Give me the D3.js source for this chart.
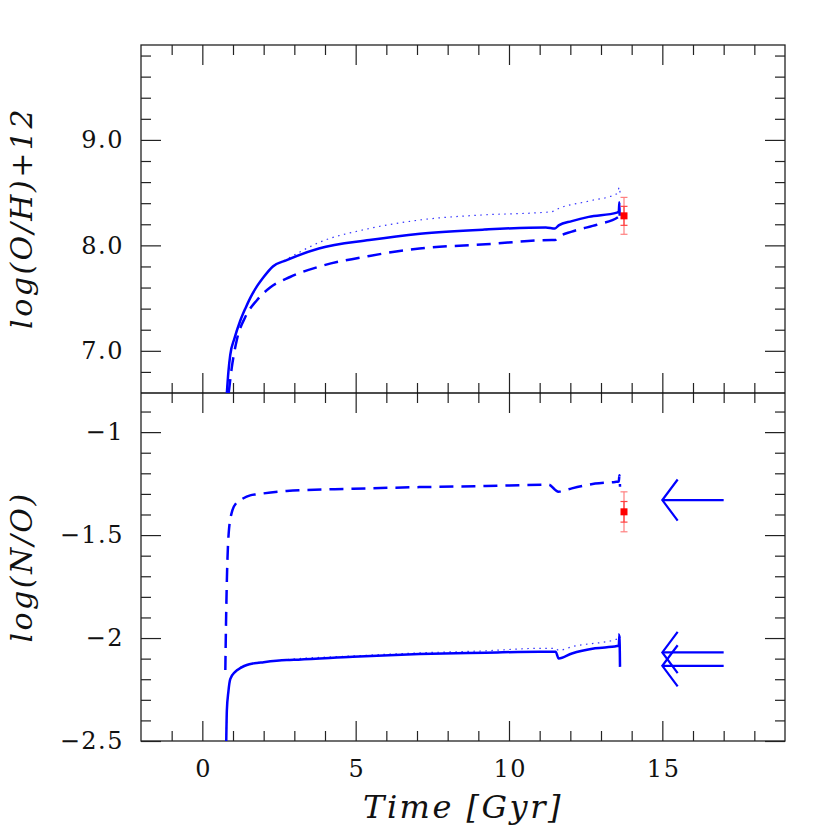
<!DOCTYPE html>
<html>
<head>
<meta charset="utf-8">
<script src="https://cdn.jsdelivr.net/npm/d3@7"></script>
<style>body{margin:0;background:#fff}</style>
</head>
<body>
<svg width="830" height="830"></svg>
<script>
// model tracks: [time in Gyr, value]
var ohSolid = [[0.80,6.60],[0.85,6.80],[0.91,6.96],[1.05,7.12],[1.23,7.28],[1.40,7.40],[1.56,7.50],[1.80,7.62],[2.00,7.70],[2.30,7.80],[2.75,7.86],[3.80,7.97],[5.45,8.05],[7.10,8.11],[9.20,8.15],[11.20,8.17],[11.50,8.16],[11.62,8.19],[12.05,8.23],[12.60,8.27],[13.52,8.31],[13.58,8.32],[13.60,8.41],[13.61,8.28]];
var ohDashed = [[0.86,6.60],[0.96,6.84],[1.13,7.11],[1.40,7.32],[1.78,7.48],[2.21,7.60],[2.86,7.70],[3.83,7.80],[5.45,7.90],[7.08,7.97],[9.24,8.01],[11.40,8.05],[11.50,8.05],[11.62,8.08],[12.05,8.13],[12.92,8.20],[13.57,8.27],[13.60,8.28]];
var ohDotted = [[0.80,6.60],[0.85,6.80],[0.91,6.96],[1.05,7.12],[1.23,7.28],[1.40,7.40],[1.56,7.50],[1.80,7.62],[2.00,7.70],[2.30,7.80],[2.75,7.87],[3.83,8.03],[5.45,8.16],[7.08,8.24],[9.24,8.29],[10.97,8.31],[11.40,8.32],[11.62,8.35],[12.60,8.42],[13.52,8.49],[13.60,8.55],[13.62,8.50]];

var noSolid = [[0.78,-2.50],[0.80,-2.35],[0.85,-2.26],[0.91,-2.20],[1.07,-2.164],[1.25,-2.145],[1.45,-2.131],[1.67,-2.123],[2.00,-2.117],[2.75,-2.107],[3.13,-2.105],[4.91,-2.091],[7.08,-2.078],[9.24,-2.071],[11.00,-2.066],[11.52,-2.066],[11.62,-2.099],[12.05,-2.075],[12.81,-2.05],[13.52,-2.039],[13.58,-2.036],[13.60,-1.985],[13.62,-2.14]];
var noDashed = [[0.75,-2.155],[0.77,-1.95],[0.80,-1.72],[0.86,-1.49],[0.96,-1.39],[1.13,-1.34],[1.29,-1.325],[1.56,-1.307],[1.78,-1.302],[2.75,-1.286],[4.91,-1.275],[7.08,-1.267],[9.24,-1.262],[11.30,-1.255],[11.50,-1.28],[11.62,-1.29],[11.75,-1.285],[12.05,-1.273],[12.81,-1.25],[13.46,-1.242],[13.58,-1.24],[13.60,-1.21],[13.62,-1.265]];
var noDotted = [[0.78,-2.50],[0.80,-2.35],[0.85,-2.26],[0.91,-2.20],[1.07,-2.164],[1.45,-2.130],[2.75,-2.105],[4.91,-2.087],[7.08,-2.072],[9.24,-2.062],[10.97,-2.05],[11.52,-2.05],[11.62,-2.06],[12.05,-2.042],[13.52,-2.005],[13.60,-1.975],[13.62,-2.0]];

// observed values (value, inner error, outer error)
var obsTime = 13.75;
var obsOH = [8.28, 0.09, 0.175];
var obsNO = [-1.387, 0.05, 0.097];

// arrows in log(N/O)
var arrowNO = [-1.33, -2.07, -2.135];

var xTickLabels = [0, 5, 10, 15];
var ohTickLabels = [7, 8, 9];
var noTickLabels = [-2.5, -2, -1.5, -1];

var svg = d3.select("svg");
var L = 141, R = 785, T = 45, M = 393, B = 741;
var blue = "#0000ff";

var x = d3.scaleLinear().domain([-2, 19]).range([L, R]);
var yTop = d3.scaleLinear().domain([6.6, 9.9]).range([M, T]);
var yBot = d3.scaleLinear().domain([-2.5, -0.81]).range([B, M]);

function isInt(v, step) { return Math.abs(v / step - Math.round(v / step)) < 1e-6; }
var xMinor = d3.range(-1, 19).filter(function(v) { return v % 5 != 0; });
var topMinor = d3.range(34, 50).map(function(i) { return i / 5; }).filter(function(v) { return !isInt(v, 1); });
var botMinor = d3.range(-24, -8).map(function(i) { return i / 10; }).filter(function(v) { return !isInt(v, 0.5); });

function addAxis(gen, scale, values, size, tr, fmt, pad) {
  var a = gen(scale).tickValues(values).tickSizeInner(size).tickSizeOuter(0)
    .tickPadding(pad || 3).tickFormat(fmt || "");
  var g = svg.append("g").attr("transform", tr).call(a);
  g.select(".domain").remove();
  g.selectAll("line").attr("stroke", "#222").attr("stroke-width", 1.2);
  g.selectAll("text").attr("font-family", "DejaVu Serif").attr("font-size", 24)
    .attr("letter-spacing", 1.5).attr("fill", "#111");
  return g;
}

var minusFmt = function(v) { return (v < 0 ? "\u2212" : "") + Math.abs(v); };

// top panel
addAxis(d3.axisTop, x, xMinor, -10, "translate(0," + T + ")");
addAxis(d3.axisTop, x, xTickLabels, -20, "translate(0," + T + ")");
addAxis(d3.axisBottom, x, xMinor, -10, "translate(0," + M + ")");
addAxis(d3.axisBottom, x, xTickLabels, -20, "translate(0," + M + ")");
addAxis(d3.axisLeft, yTop, topMinor, -10, "translate(" + L + ",0)");
addAxis(d3.axisLeft, yTop, ohTickLabels, -20, "translate(" + L + ",0)", d3.format(".1f"), 17);
addAxis(d3.axisRight, yTop, topMinor, -10, "translate(" + R + ",0)");
addAxis(d3.axisRight, yTop, ohTickLabels, -20, "translate(" + R + ",0)");

// bottom panel
addAxis(d3.axisTop, x, xMinor, -10, "translate(0," + M + ")");
addAxis(d3.axisTop, x, xTickLabels, -20, "translate(0," + M + ")");
addAxis(d3.axisBottom, x, xMinor, -10, "translate(0," + B + ")");
addAxis(d3.axisBottom, x, xTickLabels, -20, "translate(0," + B + ")", d3.format("d"), 19)
  .selectAll("text").attr("dx", 0.8);
addAxis(d3.axisLeft, yBot, botMinor, -10, "translate(" + L + ",0)");
addAxis(d3.axisLeft, yBot, noTickLabels, -20, "translate(" + L + ",0)", minusFmt, 17);
addAxis(d3.axisRight, yBot, botMinor, -10, "translate(" + R + ",0)");
addAxis(d3.axisRight, yBot, noTickLabels, -20, "translate(" + R + ",0)");

// frames
svg.append("rect").attr("x", L).attr("y", T).attr("width", R - L).attr("height", B - T)
  .attr("fill", "none").attr("stroke", "#222").attr("stroke-width", 1.3);
svg.append("line").attr("x1", L).attr("x2", R).attr("y1", M).attr("y2", M)
  .attr("stroke", "#111").attr("stroke-width", 1.5);

var defs = svg.append("defs");
defs.append("clipPath").attr("id", "clipTop").append("rect")
  .attr("x", L).attr("y", T).attr("width", R - L).attr("height", M - T);
defs.append("clipPath").attr("id", "clipBot").append("rect")
  .attr("x", L).attr("y", M).attr("width", R - L).attr("height", B - M);

var styles = {
  solid: {w: 2.5, dash: null, op: 1},
  dashed: {w: 2.5, dash: "14,8", op: 1},
  dotted: {w: 1.2, dash: "1.5,4.5", op: 0.8}
};

function track(data, y, clip, st) {
  var line = d3.line().curve(d3.curveMonotoneX)
    .x(function(d) { return x(d[0]); }).y(function(d) { return y(d[1]); });
  svg.append("path").datum(data).attr("d", line).attr("clip-path", "url(#" + clip + ")")
    .attr("fill", "none").attr("stroke", blue).attr("stroke-width", st.w)
    .attr("stroke-dasharray", st.dash).attr("opacity", st.op)
    .attr("stroke-linejoin", "round");
}

track(ohDotted, yTop, "clipTop", styles.dotted);
track(ohDashed, yTop, "clipTop", styles.dashed);
track(ohSolid, yTop, "clipTop", styles.solid);
track(noDotted, yBot, "clipBot", styles.dotted);
track(noDashed, yBot, "clipBot", styles.dashed);
track(noSolid, yBot, "clipBot", styles.solid);

// observations with error bars
function obs(o, y) {
  var g = svg.append("g");
  var cx = x(obsTime);
  [[o[2], "#ff8080"], [o[1], "#ff4040"]].forEach(function(e) {
    g.append("line").attr("x1", cx).attr("x2", cx).attr("y1", y(o[0] - e[0])).attr("y2", y(o[0] + e[0]))
      .attr("stroke", e[1]).attr("stroke-width", 1.2);
    [o[0] - e[0], o[0] + e[0]].forEach(function(v) {
      g.append("line").attr("x1", cx - 3.5).attr("x2", cx + 3.5).attr("y1", y(v)).attr("y2", y(v))
        .attr("stroke", e[1]).attr("stroke-width", 1.2);
    });
  });
  g.append("rect").attr("x", cx - 3.5).attr("y", y(o[0]) - 3.5).attr("width", 7).attr("height", 7)
    .attr("fill", "#ff0000");
}
obs(obsOH, yTop);
obs(obsNO, yBot);

// arrows
arrowNO.forEach(function(v) {
  var g = svg.append("g").attr("stroke", blue).attr("stroke-width", 2.2).attr("fill", "none");
  g.append("line").attr("x1", x(17)).attr("x2", x(15)).attr("y1", yBot(v)).attr("y2", yBot(v));
  g.append("polyline").attr("points", [
    [x(15.5), yBot(v + 0.1)], [x(15), yBot(v)], [x(15.5), yBot(v - 0.1)]
  ].map(function(p) { return p.join(","); }).join(" "));
});

// axis titles
var lab = {"font-family": "DejaVu Serif", "font-style": "italic", "font-size": 30, "letter-spacing": 2.5, "fill": "#111"};
function title(txt, tr, size) {
  var t = svg.append("text").attr("transform", tr).attr("text-anchor", "middle").text(txt);
  for (var k in lab) t.attr(k, lab[k]);
  if (size) t.attr("font-size", size);
}
title("log(O/H)+12", "translate(32,218) rotate(-90)");
title("log(N/O)", "translate(32,567) rotate(-90)");
title("Time [Gyr]", "translate(463,818)", 32);
</script>
</body>
</html>
